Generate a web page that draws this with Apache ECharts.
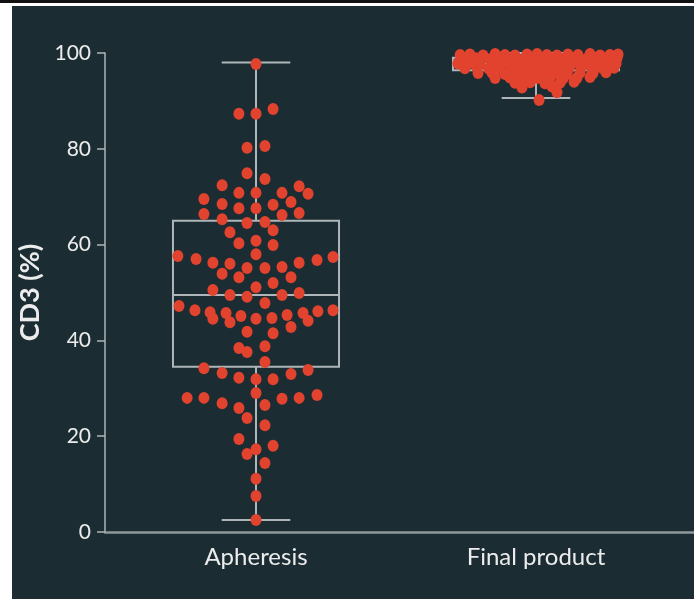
<!DOCTYPE html>
<html>
<head>
<meta charset="utf-8">
<script src="https://cdn.jsdelivr.net/npm/echarts@6/dist/echarts.min.js"></script>
<style>
html,body{margin:0;padding:0;background:#ffffff;}
#chart{width:694px;height:599px;}
</style>
</head>
<body>
<div id="chart"></div>
<script>
// ---- data ----
const categories = ['Apheresis', 'Final product'];
const yTicks = [0, 20, 40, 60, 80, 100];

// box summary per category: [categoryIndex, min, Q1, median, Q3, max]
const boxStats = [
  [0, 2.5, 34.5, 49.5, 65.0, 98.0],
  [1, 90.6, 96.4, 97.8, 99.0, 100.0]
];

// Apheresis: measured CD3 %, with swarm offset (fraction of category spacing)
const apheresisValues = [
  97.7, 87.3, 87.3, 88.3, 80.2, 80.6, 74.9, 73.7, 72.4, 72.2,
  70.8, 70.8, 70.8, 70.6, 69.5, 68.9, 68.5, 68.3, 67.6, 67.6,
  66.4, 66.2, 66.6, 65.3, 64.5, 64.7, 63.0, 62.6, 60.3, 60.8,
  59.9, 58.0, 57.6, 57.0, 56.2, 56.0, 55.1, 55.1, 55.3, 56.2,
  56.8, 57.4, 53.9, 53.2, 52.0, 53.2, 51.1, 50.5, 49.5, 49.1,
  49.5, 49.9, 47.8, 47.2, 46.3, 45.9, 44.5, 45.7, 43.8, 45.1,
  44.5, 44.7, 45.3, 42.8, 45.7, 44.1, 46.1, 46.3, 41.8, 41.5,
  38.8, 38.4, 37.6, 35.5, 34.2, 33.2, 33.8, 33.0, 32.2, 31.9,
  31.9, 29.0, 28.0, 28.0, 26.9, 27.8, 28.0, 28.6, 25.9, 26.5,
  23.8, 22.3, 19.4, 18.0, 17.3, 16.3, 14.4, 11.1, 7.5, 2.5
];
const apheresisSwarm = [
  0, -0.061, 0, 0.061, -0.032, 0.032, -0.032, 0.032, -0.121, 0.154,
  -0.061, 0, 0.093, 0.186, -0.186, 0.125, -0.121, 0.061, -0.061, 0,
  -0.186, 0.093, 0.154, -0.121, -0.032, 0.032, 0.061, -0.093, -0.061, 0,
  0.061, 0, -0.279, -0.214, -0.154, -0.093, -0.032, 0.032, 0.093, 0.154,
  0.218, 0.275, -0.121, -0.061, 0.061, 0.125, 0, -0.154, -0.093, -0.032,
  0.093, 0.154, 0.032, -0.275, -0.218, -0.164, -0.154, -0.107, -0.093, -0.054,
  0, 0.057, 0.111, 0.125, 0.168, 0.186, 0.221, 0.275, -0.032, 0.061,
  0.032, -0.061, -0.032, 0.032, -0.186, -0.121, 0.186, 0.125, -0.061, 0,
  0.061, 0, -0.246, -0.186, -0.121, 0.093, 0.154, 0.218, -0.061, 0.032,
  -0.032, 0.032, -0.061, 0.061, 0, -0.032, 0.032, 0, 0, 0
];

// Final product
const finalValues = [
  99.6, 99.7, 99.5, 99.8, 99.6, 99.5, 99.7, 99.8, 99.6, 99.5, 99.7, 99.6, 99.8, 99.5, 99.6, 99.7,
  98.8, 98.9, 98.7, 98.8, 99.0, 98.7, 98.9, 98.8, 98.6, 98.9, 98.7, 98.8, 99.0, 98.8, 98.9,
  97.8, 97.9, 97.7, 97.8, 98.0, 97.6, 97.8, 97.9, 97.7, 97.8, 97.9, 97.6, 97.8, 98.0, 97.8,
  96.8, 96.9, 96.7, 96.8, 97.0, 96.6, 96.8, 96.9, 96.7, 96.8, 96.9, 96.7, 96.8, 96.9,
  95.8, 95.9, 95.6, 95.8, 95.7, 95.9, 95.8, 95.6, 95.9, 95.8, 96.0,
  94.8, 94.9, 94.7, 94.8, 94.9, 94.6, 94.8, 95.0,
  93.8, 93.9, 93.7, 93.8, 94.0,
  92.8, 93.0,
  91.8,
  90.2
];
const finalSwarm = [
  -0.271, -0.236, -0.189, -0.146, -0.111, -0.075, -0.032, 0.004, 0.039, 0.075, 0.114, 0.15, 0.193, 0.229, 0.264, 0.293,
  -0.261, -0.214, -0.164, -0.121, -0.082, -0.046, -0.011, 0.032, 0.068, 0.104, 0.139, 0.182, 0.221, 0.261, 0.289,
  -0.279, -0.239, -0.2, -0.154, -0.111, -0.068, -0.029, 0.014, 0.05, 0.089, 0.129, 0.168, 0.211, 0.25, 0.286,
  -0.254, -0.211, -0.168, -0.129, -0.086, -0.046, -0.004, 0.039, 0.079, 0.118, 0.161, 0.2, 0.239, 0.279,
  -0.207, -0.157, -0.111, -0.064, -0.021, 0.021, 0.068, 0.111, 0.157, 0.204, 0.25,
  -0.146, -0.093, -0.046, 0.004, 0.05, 0.096, 0.146, 0.193,
  -0.075, -0.021, 0.032, 0.086, 0.136,
  -0.05, 0.057,
  0.075,
  0.011
];

// ---- build ----
const pointsA = apheresisValues.map((v, i) => [0 + apheresisSwarm[i], v]);
const pointsF = finalValues.map((v, i) => [1 + finalSwarm[i], v]);

const BOX_W = 0.593;  // in category units
const CAP_W = 0.245;
const lineCol = '#aeb6b9';

function renderBox(params, api) {
  const x = api.value(0);
  const mn = api.value(1), q1 = api.value(2), md = api.value(3), q3 = api.value(4), mx = api.value(5);
  const pt = (dx, v) => api.coord([x + dx, v]);
  const st = { stroke: lineCol, lineWidth: 2, fill: null };
  const seg = (a, b) => ({ type: 'line', shape: { x1: a[0], y1: a[1], x2: b[0], y2: b[1] }, style: { stroke: lineCol, lineWidth: 2 } });
  const tl = pt(-BOX_W / 2, q3), br = pt(BOX_W / 2, q1);
  return {
    type: 'group',
    children: [
      seg(pt(0, q3), pt(0, mx)),
      seg(pt(0, q1), pt(0, mn)),
      seg(pt(-CAP_W / 2, mx), pt(CAP_W / 2, mx)),
      seg(pt(-CAP_W / 2, mn), pt(CAP_W / 2, mn)),
      { type: 'rect', shape: { x: tl[0], y: tl[1], width: br[0] - tl[0], height: br[1] - tl[1] }, style: st },
      seg(pt(-BOX_W / 2, md), pt(BOX_W / 2, md))
    ]
  };
}

const chart = echarts.init(document.getElementById('chart'), null, { renderer: 'canvas' });
const font = 'Lato, "Open Sans", sans-serif';
const option = {
  backgroundColor: '#ffffff',
  animation: false,
  graphic: [
    { type: 'rect', z: -10, shape: { x: 0, y: 0, width: 694, height: 3 }, style: { fill: '#111111' } },
    { type: 'rect', z: -10, shape: { x: 12, y: 6, width: 682, height: 593 }, style: { fill: '#1b2d33' } }
  ],
  grid: { left: 105, right: 0, top: 53, bottom: 67, containLabel: false },
  xAxis: {
    type: 'value',
    min: -0.5393,
    max: 1.5643,
    splitLine: { show: false },
    axisTick: { show: false },
    axisLine: { show: true, onZero: false, lineStyle: { color: '#8f999c', width: 2.5 } },
    axisLabel: {
      customValues: [0, 1],
      formatter: (v) => categories[Math.round(v)] || '',
      color: '#ececec',
      fontFamily: font,
      fontSize: 24,
      margin: 13
    }
  },
  yAxis: {
    type: 'value',
    min: 0,
    max: 100,
    interval: 20,
    name: 'CD3 (%)',
    nameLocation: 'middle',
    nameGap: 51,
    nameTextStyle: { color: '#ececec', fontFamily: font, fontSize: 27, fontWeight: 'bold' },
    splitLine: { show: false },
    axisLine: { show: true, onZero: false, lineStyle: { color: '#aeb6b9', width: 1.5 } },
    axisTick: { show: true, length: 8, lineStyle: { color: '#aeb6b9', width: 1.5 } },
    axisLabel: {
      color: '#ececec',
      fontFamily: font,
      fontSize: 21,
      margin: 14,
      formatter: (v) => yTicks.indexOf(v) >= 0 ? String(v) : ''
    }
  },
  series: [
    {
      type: 'custom',
      renderItem: renderBox,
      data: boxStats,
      z: 1,
      silent: true
    },
    {
      type: 'scatter',
      data: pointsA,
      symbol: 'circle',
      symbolSize: [11, 12],
      itemStyle: { color: '#e2432f', opacity: 1 },
      z: 3
    },
    {
      type: 'scatter',
      data: pointsF,
      symbol: 'circle',
      symbolSize: [11, 12],
      itemStyle: { color: '#e2432f', opacity: 1 },
      z: 3
    }
  ]
};
chart.setOption(option);
</script>
</body>
</html>
